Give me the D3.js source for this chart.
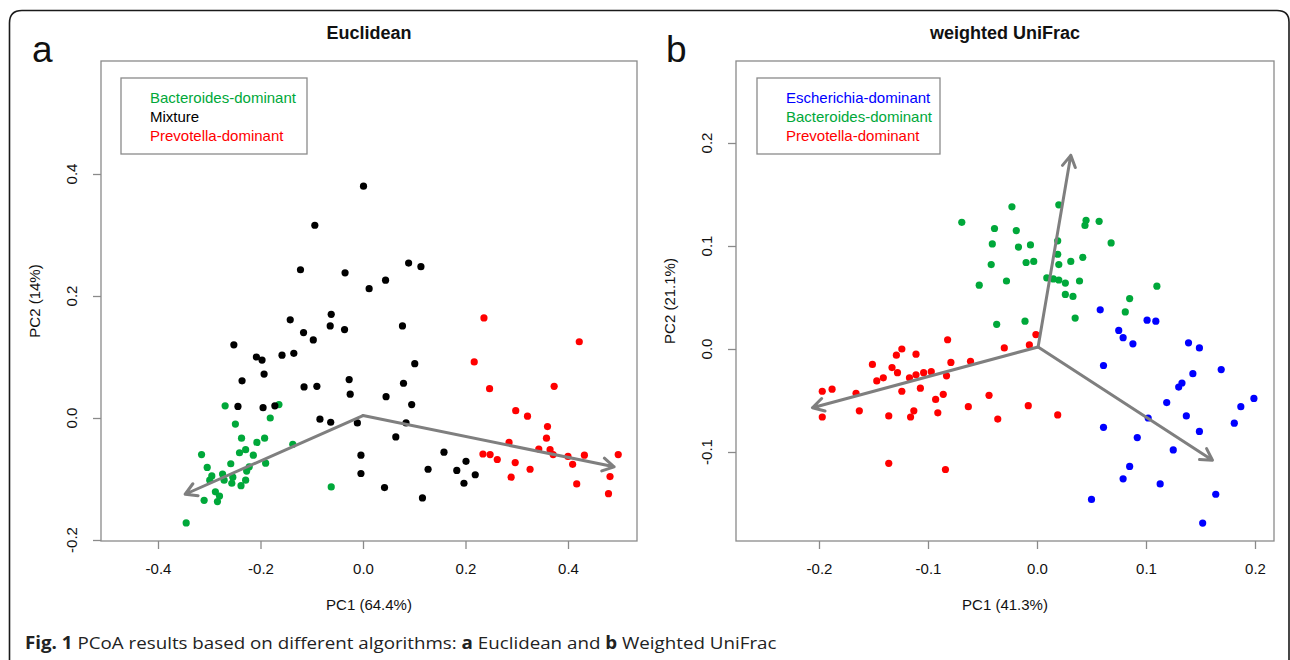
<!DOCTYPE html>
<html>
<head>
<meta charset="utf-8">
<script src="https://cdn.jsdelivr.net/npm/d3@7"></script>
<style>
  body { margin: 0; background: #fff; }
  svg { display: block; }
</style>
</head>
<body>
<svg id="fig" width="1290" height="660"></svg>
<script>
// ---------- Panel a: Euclidean PCoA (PC1, PC2) ----------
const eucBacteroides = [
  [-0.269,0.020],[-0.164,0.022],[-0.181,0.000],[-0.249,-0.010],[-0.237,-0.033],[-0.192,-0.033],
  [-0.207,-0.040],[-0.137,-0.043],[-0.229,-0.052],[-0.241,-0.057],[-0.214,-0.061],[-0.315,-0.060],
  [-0.258,-0.075],[-0.190,-0.074],[-0.304,-0.081],[-0.222,-0.080],[-0.227,-0.087],[-0.295,-0.095],
  [-0.274,-0.092],[-0.299,-0.102],[-0.271,-0.102],[-0.254,-0.097],[-0.256,-0.107],[-0.229,-0.102],
  [-0.238,-0.111],[-0.062,-0.113],[-0.288,-0.121],[-0.280,-0.128],[-0.310,-0.135],[-0.284,-0.137],
  [-0.345,-0.172]
];
const eucMixture = [
  [0.001,0.380],[-0.094,0.316],[-0.122,0.243],[-0.035,0.238],[0.089,0.254],[0.113,0.248],
  [0.012,0.212],[0.044,0.226],[-0.062,0.170],[-0.142,0.161],[-0.064,0.151],[-0.036,0.145],
  [0.077,0.151],[-0.116,0.140],[-0.097,0.128],[-0.252,0.120],[-0.208,0.100],[-0.197,0.095],
  [-0.158,0.103],[-0.135,0.106],[0.101,0.089],[-0.193,0.072],[-0.236,0.061],[-0.027,0.063],
  [0.079,0.057],[-0.115,0.051],[-0.090,0.052],[-0.025,0.039],[0.045,0.035],[0.095,0.022],
  [-0.244,0.019],[-0.195,0.017],[-0.172,0.020],[-0.084,-0.002],[-0.063,-0.007],[-0.011,-0.008],
  [0.084,-0.008],[0.064,-0.031],[-0.004,-0.061],[-0.004,-0.091],[0.042,-0.114],[0.116,-0.131],
  [0.127,-0.084],[0.158,-0.056],[0.183,-0.086],[0.201,-0.071],[0.219,-0.093],[0.197,-0.107]
];
const eucPrevotella = [
  [0.236,0.164],[0.422,0.125],[0.217,0.092],[0.247,0.048],[0.373,0.052],[0.298,0.012],
  [0.321,0.003],[0.360,-0.014],[0.358,-0.033],[0.285,-0.040],[0.343,-0.051],[0.365,-0.052],
  [0.371,-0.060],[0.234,-0.059],[0.248,-0.060],[0.262,-0.068],[0.400,-0.063],[0.432,-0.061],
  [0.498,-0.060],[0.297,-0.073],[0.409,-0.076],[0.326,-0.084],[0.289,-0.097],[0.482,-0.096],
  [0.417,-0.108],[0.479,-0.124]
];
const eucOrigin = [0.000, 0.004];
const eucArrows = [[-0.347,-0.125],[0.490,-0.080]];
const eucTicksX = [-0.4,-0.2,0.0,0.2,0.4];
const eucTickLabelsX = ["-0.4","-0.2","0.0","0.2","0.4"];
const eucTicksY = [-0.2,0.0,0.2,0.4];
const eucTickLabelsY = ["-0.2","0.0","0.2","0.4"];

// ---------- Panel b: weighted UniFrac PCoA (PC1, PC2) ----------
const wuEscherichia = [
  [0.058,0.038],[0.101,0.028],[0.109,0.027],[0.075,0.018],[0.079,0.011],[0.088,0.005],
  [0.139,0.006],[0.149,0.001],[0.061,-0.016],[0.143,-0.024],[0.169,-0.020],[0.133,-0.033],
  [0.130,-0.037],[0.119,-0.052],[0.199,-0.048],[0.187,-0.056],[0.137,-0.065],[0.102,-0.067],
  [0.181,-0.072],[0.061,-0.076],[0.149,-0.080],[0.092,-0.086],[0.125,-0.098],[0.085,-0.114],
  [0.079,-0.126],[0.113,-0.131],[0.050,-0.146],[0.164,-0.141],[0.152,-0.169]
];
const wuBacteroides = [
  [-0.023,0.138],[-0.069,0.123],[-0.039,0.117],[-0.019,0.115],[-0.041,0.102],[-0.017,0.099],
  [-0.006,0.101],[-0.042,0.082],[-0.010,0.084],[-0.003,0.085],[-0.053,0.062],[-0.028,0.066],
  [-0.037,0.024],[-0.011,0.027],[0.020,0.140],[0.045,0.125],[0.044,0.120],[0.057,0.124],
  [0.019,0.105],[0.068,0.103],[0.019,0.092],[0.020,0.082],[0.031,0.085],[0.042,0.089],
  [0.009,0.069],[0.015,0.068],[0.020,0.067],[0.026,0.064],[0.039,0.066],[0.026,0.053],
  [0.033,0.051],[0.110,0.061],[0.085,0.049],[0.081,0.036],[0.035,0.030]
];
const wuPrevotella = [
  [-0.001,0.014],[-0.007,0.004],[-0.030,0.001],[-0.082,0.009],[-0.124,0.000],[-0.129,-0.006],
  [-0.111,-0.005],[-0.079,-0.013],[-0.061,-0.012],[-0.151,-0.015],[-0.133,-0.018],[-0.128,-0.023],
  [-0.147,-0.031],[-0.141,-0.028],[-0.117,-0.028],[-0.111,-0.025],[-0.104,-0.023],[-0.097,-0.022],
  [-0.083,-0.026],[-0.197,-0.041],[-0.188,-0.039],[-0.166,-0.043],[-0.124,-0.041],[-0.107,-0.038],
  [-0.086,-0.044],[-0.093,-0.049],[-0.044,-0.045],[-0.163,-0.060],[-0.136,-0.065],[-0.113,-0.060],
  [-0.116,-0.066],[-0.091,-0.062],[-0.063,-0.056],[-0.008,-0.055],[-0.036,-0.068],[-0.197,-0.066],
  [-0.136,-0.111],[-0.084,-0.117],[0.019,-0.064]
];
const wuOrigin = [0.001, 0.002];
const wuArrows = [[0.031,0.188],[0.161,-0.108],[-0.206,-0.057]];
const wuTicksX = [-0.2,-0.1,0.0,0.1,0.2];
const wuTickLabelsX = ["-0.2","-0.1","0.0","0.1","0.2"];
const wuTicksY = [-0.1,0.0,0.1,0.2];
const wuTickLabelsY = ["-0.1","0.0","0.1","0.2"];

const GREEN = "#00a83a", BLACK = "#000000", RED = "#ff0000", BLUE = "#0000ff";
const AXIS = "#8a8a8a", ARROW = "#7f7f7f";
const FONT = "'Liberation Sans', Arial, Helvetica, sans-serif";

const svg = d3.select("#fig");

// outer figure frame with rounded top corners
svg.append("path")
  .attr("d", "M9.5,660 V23 Q9.5,10.5 22,10.5 H1277 Q1289,10.5 1289,22 V660")
  .attr("fill", "none").attr("stroke", "#1a1a1a").attr("stroke-width", 1.6);

function drawPanel(cfg) {
  const x = d3.scaleLinear().domain(cfg.xDomain).range([cfg.box.l, cfg.box.r]);
  const y = d3.scaleLinear().domain(cfg.yDomain).range([cfg.box.b, cfg.box.t]);
  const g = svg.append("g");

  // plot box
  g.append("rect")
    .attr("x", cfg.box.l).attr("y", cfg.box.t)
    .attr("width", cfg.box.r - cfg.box.l).attr("height", cfg.box.b - cfg.box.t)
    .attr("fill", "none").attr("stroke", AXIS).attr("stroke-width", 1.3);

  // bottom axis
  const xAxis = d3.axisBottom(x).tickValues(cfg.xTicks)
    .tickFormat((d, i) => cfg.xTickLabels[i]).tickSize(8).tickSizeOuter(0).tickPadding(14);
  const gx = g.append("g").attr("transform", `translate(0,${cfg.box.b})`).call(xAxis);
  gx.select(".domain").remove();
  gx.selectAll("line").attr("stroke", AXIS).attr("stroke-width", 1.3);
  gx.selectAll("text").attr("font-family", FONT).attr("font-size", 15).attr("fill", "#111");

  // left axis, labels rotated as in R's default las = 0
  const yAxis = d3.axisLeft(y).tickValues(cfg.yTicks).tickFormat(() => "")
    .tickSize(8).tickSizeOuter(0);
  const gy = g.append("g").attr("transform", `translate(${cfg.box.l},0)`).call(yAxis);
  gy.select(".domain").remove();
  gy.selectAll("line").attr("stroke", AXIS).attr("stroke-width", 1.3);
  g.selectAll(".ytl").data(cfg.yTicks).enter().append("text")
    .attr("class", "ytl")
    .attr("transform", d => `translate(${cfg.box.l - 29},${y(d)}) rotate(-90)`)
    .attr("dy", "0.35em").attr("text-anchor", "middle")
    .attr("font-family", FONT).attr("font-size", 15).attr("fill", "#111")
    .text((d, i) => cfg.yTickLabels[i]);

  // titles
  const cx = (cfg.box.l + cfg.box.r) / 2, cy = (cfg.box.t + cfg.box.b) / 2;
  g.append("text").attr("x", cx).attr("y", 39).attr("text-anchor", "middle")
    .attr("font-family", FONT).attr("font-weight", "bold").attr("font-size", 18)
    .attr("fill", "#111").text(cfg.title);
  g.append("text").attr("x", cx).attr("y", 610).attr("text-anchor", "middle")
    .attr("font-family", FONT).attr("font-size", 15).attr("fill", "#111").text(cfg.xlab);
  g.append("text").attr("transform", `translate(${cfg.box.l - 66},${cy}) rotate(-90)`)
    .attr("dy", "0.35em").attr("text-anchor", "middle")
    .attr("font-family", FONT).attr("font-size", 15).attr("fill", "#111").text(cfg.ylab);

  // panel letter
  g.append("text").attr("x", cfg.letterX).attr("y", 62)
    .attr("font-family", FONT).attr("font-size", 37).attr("fill", "#111").text(cfg.letter);

  // legend
  g.append("rect").attr("x", cfg.legend.l).attr("y", 78)
    .attr("width", cfg.legend.w).attr("height", 76)
    .attr("fill", "#fff").attr("stroke", AXIS).attr("stroke-width", 1.3);
  cfg.groups.forEach((grp, i) => {
    g.append("text").attr("x", cfg.legend.l + 29).attr("y", 98 + i * 19).attr("dy", "0.35em")
      .attr("font-family", FONT).attr("font-size", 15).attr("fill", grp.color).text(grp.name);
  });

  // sample points
  cfg.groups.forEach(grp => {
    g.append("g").selectAll("circle").data(grp.data).enter().append("circle")
      .attr("cx", d => x(d[0])).attr("cy", d => y(d[1])).attr("r", 3.6)
      .attr("fill", grp.color);
  });

  // biplot arrows from the origin
  const ox = x(cfg.origin[0]), oy = y(cfg.origin[1]);
  cfg.arrows.forEach(a => {
    const tx = x(a[0]), ty = y(a[1]);
    const th = Math.atan2(ty - oy, tx - ox), L = 13, ang = Math.PI / 6;
    const h1 = [tx - L * Math.cos(th - ang), ty - L * Math.sin(th - ang)];
    const h2 = [tx - L * Math.cos(th + ang), ty - L * Math.sin(th + ang)];
    g.append("path")
      .attr("d", `M${ox},${oy}L${tx},${ty}M${h1[0]},${h1[1]}L${tx},${ty}L${h2[0]},${h2[1]}`)
      .attr("fill", "none").attr("stroke", ARROW).attr("stroke-width", 3)
      .attr("stroke-linecap", "round").attr("stroke-linejoin", "round");
  });
}

drawPanel({
  box: { l: 101, r: 637, t: 61, b: 541 },
  xDomain: [(101 - 363) / 512.5, (637 - 363) / 512.5],
  yDomain: [(418 - 541) / 610, (418 - 61) / 610],
  xTicks: eucTicksX, xTickLabels: eucTickLabelsX,
  yTicks: eucTicksY, yTickLabels: eucTickLabelsY,
  title: "Euclidean", xlab: "PC1 (64.4%)", ylab: "PC2 (14%)",
  letter: "a", letterX: 32,
  legend: { l: 121, w: 186 },
  groups: [
    { name: "Bacteroides-dominant", color: GREEN, data: eucBacteroides },
    { name: "Mixture", color: BLACK, data: eucMixture },
    { name: "Prevotella-dominant", color: RED, data: eucPrevotella }
  ],
  origin: eucOrigin, arrows: eucArrows
});

drawPanel({
  box: { l: 736, r: 1274, t: 61, b: 541 },
  xDomain: [(736 - 1037) / 1090, (1274 - 1037) / 1090],
  yDomain: [(349 - 541) / 1030, (349 - 61) / 1030],
  xTicks: wuTicksX, xTickLabels: wuTickLabelsX,
  yTicks: wuTicksY, yTickLabels: wuTickLabelsY,
  title: "weighted UniFrac", xlab: "PC1 (41.3%)", ylab: "PC2 (21.1%)",
  letter: "b", letterX: 666,
  legend: { l: 757, w: 183 },
  groups: [
    { name: "Escherichia-dominant", color: BLUE, data: wuEscherichia },
    { name: "Bacteroides-dominant", color: GREEN, data: wuBacteroides },
    { name: "Prevotella-dominant", color: RED, data: wuPrevotella }
  ],
  origin: wuOrigin, arrows: wuArrows
});

// figure caption, fitted to the caption line width
const cap = svg.append("text").attr("x", 25).attr("y", 649)
  .attr("font-family", "'Open Sans', 'Noto Sans', sans-serif").attr("font-size", 17).attr("fill", "#222");
cap.append("tspan").attr("font-weight", "bold").text("Fig. 1");
cap.append("tspan").text(" PCoA results based on different algorithms: ");
cap.append("tspan").attr("font-weight", "bold").text("a");
cap.append("tspan").text(" Euclidean and ");
cap.append("tspan").attr("font-weight", "bold").text("b");
cap.append("tspan").text(" Weighted UniFrac");
const capW = cap.node().getComputedTextLength();
const capTarget = 752;
cap.attr("transform", `translate(25,0) scale(${capTarget / capW},1) translate(-25,0)`);
</script>
</body>
</html>
